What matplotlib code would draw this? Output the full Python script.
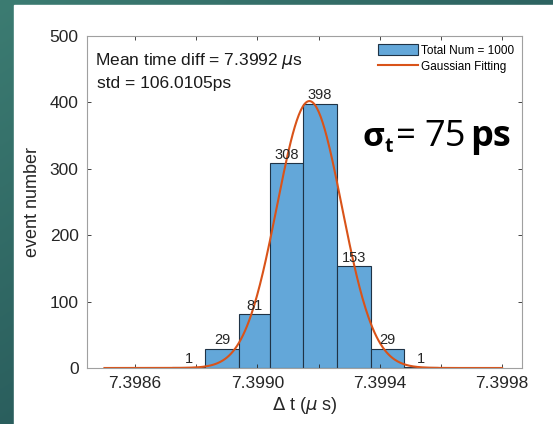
import matplotlib.pyplot as plt
import matplotlib.patches as mpatches
import numpy as np

# histogram
bin_edges = [7.39872, 7.39883, 7.39894, 7.39904, 7.39915, 7.39926, 7.39937, 7.39948, 7.39959]
counts = [1, 29, 81, 308, 398, 153, 29, 1]

# gaussian fit parameters (us)
fit_mu = 7.39917
fit_sigma = 0.000106
fit_peak = 402
fit_range = [7.3985, 7.3998]

x_ticks = [7.3986, 7.3988, 7.3990, 7.3992, 7.3994, 7.3996, 7.3998]
x_ticklabels = ["7.3986", "", "7.3990", "", "7.3994", "", "7.3998"]
y_ticks = [0, 100, 200, 300, 400, 500]

plt.rcParams["font.family"] = ["Liberation Sans", "DejaVu Sans"]

fig = plt.figure(figsize=(5.53, 4.24), dpi=100)

# teal slide background with white panel
bg = fig.add_axes([0, 0, 1, 1], zorder=-10)
gx, gy = np.meshgrid(np.linspace(0, 1, 200), np.linspace(0, 1, 200))
c1 = np.array([0x3c, 0x7c, 0x72]) / 255
c2 = np.array([0x1f, 0x4b, 0x50]) / 255
t = np.clip(0.6 * gy + 0.5 * gx, 0, 1)[..., None]
bg.imshow(c1 * (1 - t) + c2 * t, extent=[0, 1, 0, 1], aspect="auto", origin="upper")
bg.add_patch(mpatches.Rectangle((14 / 553, 0), 1, (424 - 5) / 424, color="white"))
bg.set_xlim(0, 1)
bg.set_ylim(0, 1)
bg.axis("off")

ax = fig.add_axes([87 / 553, (424 - 368) / 424, (522 - 87) / 553, (368 - 36) / 424])

widths = np.diff(bin_edges)
bars = ax.bar(bin_edges[:-1], counts, width=widths, align="edge",
              color="#63a7d9", edgecolor="#1f3346", linewidth=0.8,
              label="Total Num = 1000")

xs = np.linspace(fit_range[0], fit_range[1], 400)
ys = fit_peak * np.exp(-0.5 * ((xs - fit_mu) / fit_sigma) ** 2)
line, = ax.plot(xs, ys, color="#d95319", linewidth=1.5, label="Gaussian Fitting")

for left, w, c in zip(bin_edges[:-1], widths, counts):
    ax.text(left + w / 2, c + 2, str(c), ha="center", va="bottom",
            fontsize=10.5, color="#262626")

ax.set_xlim(7.398443, 7.399865)
ax.set_ylim(0, 500)
ax.set_xticks(x_ticks)
ax.set_xticklabels(x_ticklabels)
ax.set_yticks(y_ticks)
ax.tick_params(direction="in", top=True, right=True, labelsize=12.5,
               colors="#262626", length=3, width=0.6, pad=6)
for s in ax.spines.values():
    s.set_color("#a0a0a0")
    s.set_linewidth(0.8)

ax.set_xlabel(r"$\Delta$ t ($\mu$ s)", fontsize=13, color="#262626", labelpad=3)
ax.set_ylabel("event number", fontsize=13, color="#262626", labelpad=6)

ax.text(0.018, 0.955, r"Mean time diff = 7.3992 $\mu$s", transform=ax.transAxes,
        fontsize=12.5, va="top", ha="left", color="#1a1a1a")
ax.text(0.022, 0.88, "std = 106.0105ps", transform=ax.transAxes,
        fontsize=12.5, va="top", ha="left", color="#1a1a1a")

ax.legend([bars, line], ["Total Num = 1000", "Gaussian Fitting"],
          loc="upper right", frameon=False, fontsize=8.5,
          handlelength=3.4, handleheight=1.0, handletextpad=0.2,
          borderaxespad=0.3, labelspacing=0.35)

# slide annotation
base = 1 - 146 / 424
fig.text(362 / 553, base, "σ", fontsize=24, fontweight="bold", family="Open Sans",
         va="baseline", ha="left", color="black")
fig.text(384.5 / 553, base - 6 / 424, "t", fontsize=14, fontweight="bold",
         family="Open Sans", va="baseline", ha="left", color="black")
fig.text(396 / 553, base, "=", fontsize=25, family="Open Sans",
         va="baseline", ha="left", color="black")
fig.text(424 / 553, base, "75", fontsize=26, family="Open Sans",
         va="baseline", ha="left", color="black")
fig.text(470 / 553, base, "ps", fontsize=26, fontweight="bold", family="Open Sans",
         va="baseline", ha="left", color="black")

fig.savefig("out.png", dpi=100)
